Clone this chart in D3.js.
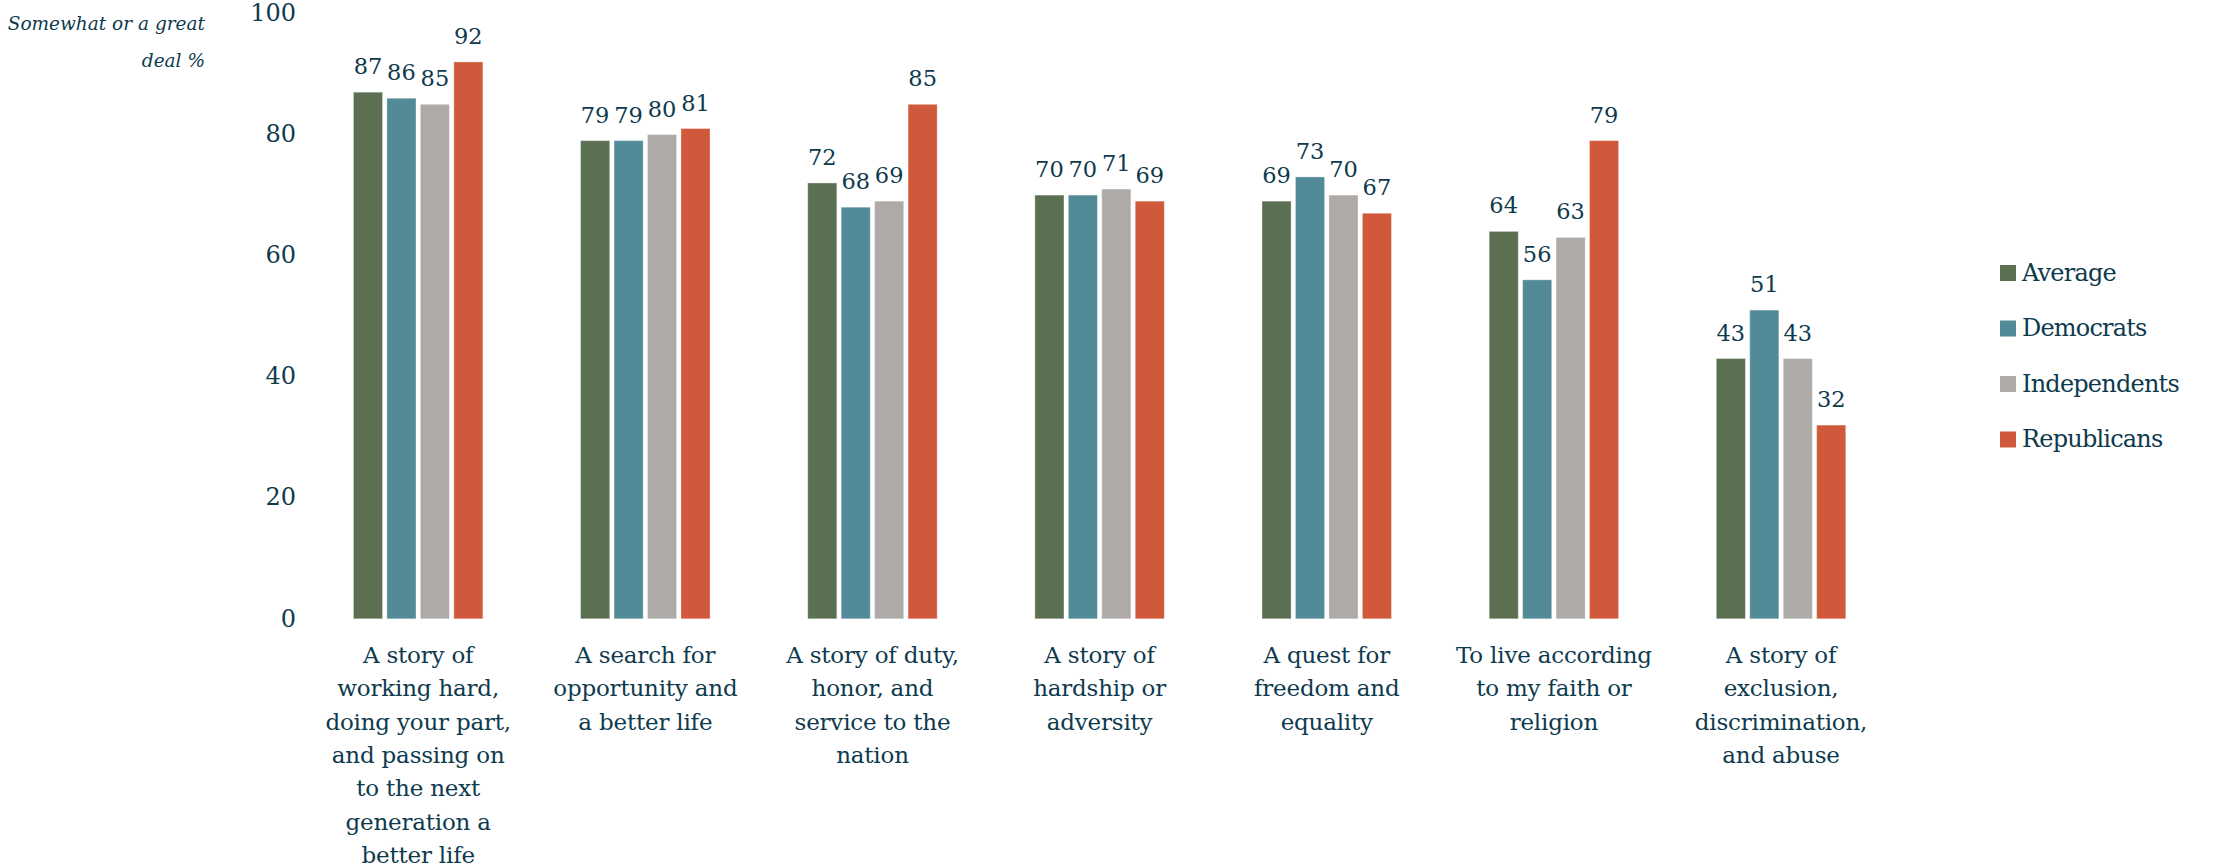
<!DOCTYPE html>
<html>
<head>
<meta charset="utf-8">
<script src="https://cdn.jsdelivr.net/npm/d3@7"></script>
<style>
  html, body { margin: 0; padding: 0; background: #fff; }
  svg { display: block; }
  text { font-family: "DejaVu Serif", serif; fill: #0e3a4e; }
</style>
</head>
<body>
<svg id="chart" width="2213" height="868"></svg>
<script>
const categories = [
  ["A story of", "working hard,", "doing your part,", "and passing on", "to the next", "generation a", "better life"],
  ["A search for", "opportunity and", "a better life"],
  ["A story of duty,", "honor, and", "service to the", "nation"],
  ["A story of", "hardship or", "adversity"],
  ["A quest for", "freedom and", "equality"],
  ["To live according", "to my faith or", "religion"],
  ["A story of", "exclusion,", "discrimination,", "and abuse"]
];
const seriesNames = ["Average", "Democrats", "Independents", "Republicans"];
const average      = [87, 79, 72, 70, 69, 64, 43];
const democrats    = [86, 79, 68, 70, 73, 56, 51];
const independents = [85, 80, 69, 71, 70, 63, 43];
const republicans  = [92, 81, 85, 69, 67, 79, 32];
const yTicks = [0, 20, 40, 60, 80, 100];
const yTitle = ["Somewhat or a great", "deal %"];
const colors = ["#5b6f52", "#528a98", "#aeaaa8", "#d0593b"];

const series = [average, democrats, independents, republicans];
const svg = d3.select("#chart");

const x0 = d3.scaleBand().domain(d3.range(categories.length)).range([304.6, 1894.6]).paddingInner(0.43).paddingOuter(0.215);
const x1 = d3.scaleBand().domain(d3.range(seriesNames.length)).range([0, x0.bandwidth()]).paddingInner(0.13);
const y = d3.scaleLinear().domain([0, 100]).range([618.8, 13.5]);

// y axis labels
const yAxis = d3.axisLeft(y).tickValues(yTicks).tickSize(0).tickPadding(0);
const yg = svg.append("g").attr("transform", "translate(296,0)").call(yAxis);
yg.select(".domain").remove();
yg.selectAll("text").style("font-family", '"DejaVu Serif", serif').style("font-size", "24px").attr("fill", "#0e3a4e").attr("dy", "0.3em");

// y title
svg.append("g").selectAll("text").data(yTitle).join("text")
  .attr("x", 205).attr("y", (d, i) => 30 + i * 37)
  .attr("text-anchor", "end").style("font-style", "italic").style("font-size", "18.5px")
  .text(d => d);

// bars
const groups = svg.append("g").selectAll("g").data(categories).join("g")
  .attr("transform", (d, i) => `translate(${x0(i)},0)`);

groups.each(function(c, ci) {
  const g = d3.select(this);
  const vals = series.map((s, si) => ({ si, v: s[ci] }));
  g.selectAll("rect").data(vals).join("rect")
    .attr("x", d => x1(d.si)).attr("width", x1.bandwidth())
    .attr("y", d => y(d.v)).attr("height", d => y(0) - y(d.v))
    .attr("fill", d => colors[d.si])
    .attr("stroke", "#ffffff").attr("stroke-opacity", 0.35).attr("stroke-width", 1);
  g.selectAll("text.val").data(vals).join("text").attr("class", "val")
    .attr("x", d => x1(d.si) + x1.bandwidth() / 2).attr("y", d => y(d.v) - 18)
    .attr("text-anchor", "middle").style("font-size", "22.5px")
    .text(d => d.v);
  g.selectAll("text.cat").data(c).join("text").attr("class", "cat")
    .attr("x", x0.bandwidth() / 2).attr("y", (d, i) => 663 + i * 33.3)
    .attr("text-anchor", "middle").style("font-size", "23px").style("letter-spacing", "-0.2px")
    .text(d => d);
});

// legend
const leg = svg.append("g").selectAll("g").data(seriesNames).join("g")
  .attr("transform", (d, i) => `translate(2000,${273 + i * 55.5})`);
leg.append("rect").attr("x", 0).attr("y", -8).attr("width", 16).attr("height", 16).attr("fill", (d, i) => colors[i]);
leg.append("text").attr("x", 22).attr("y", 0).attr("dy", "0.33em").style("font-size", "24px").style("letter-spacing", "-0.8px").text(d => d);
</script>
</body>
</html>
